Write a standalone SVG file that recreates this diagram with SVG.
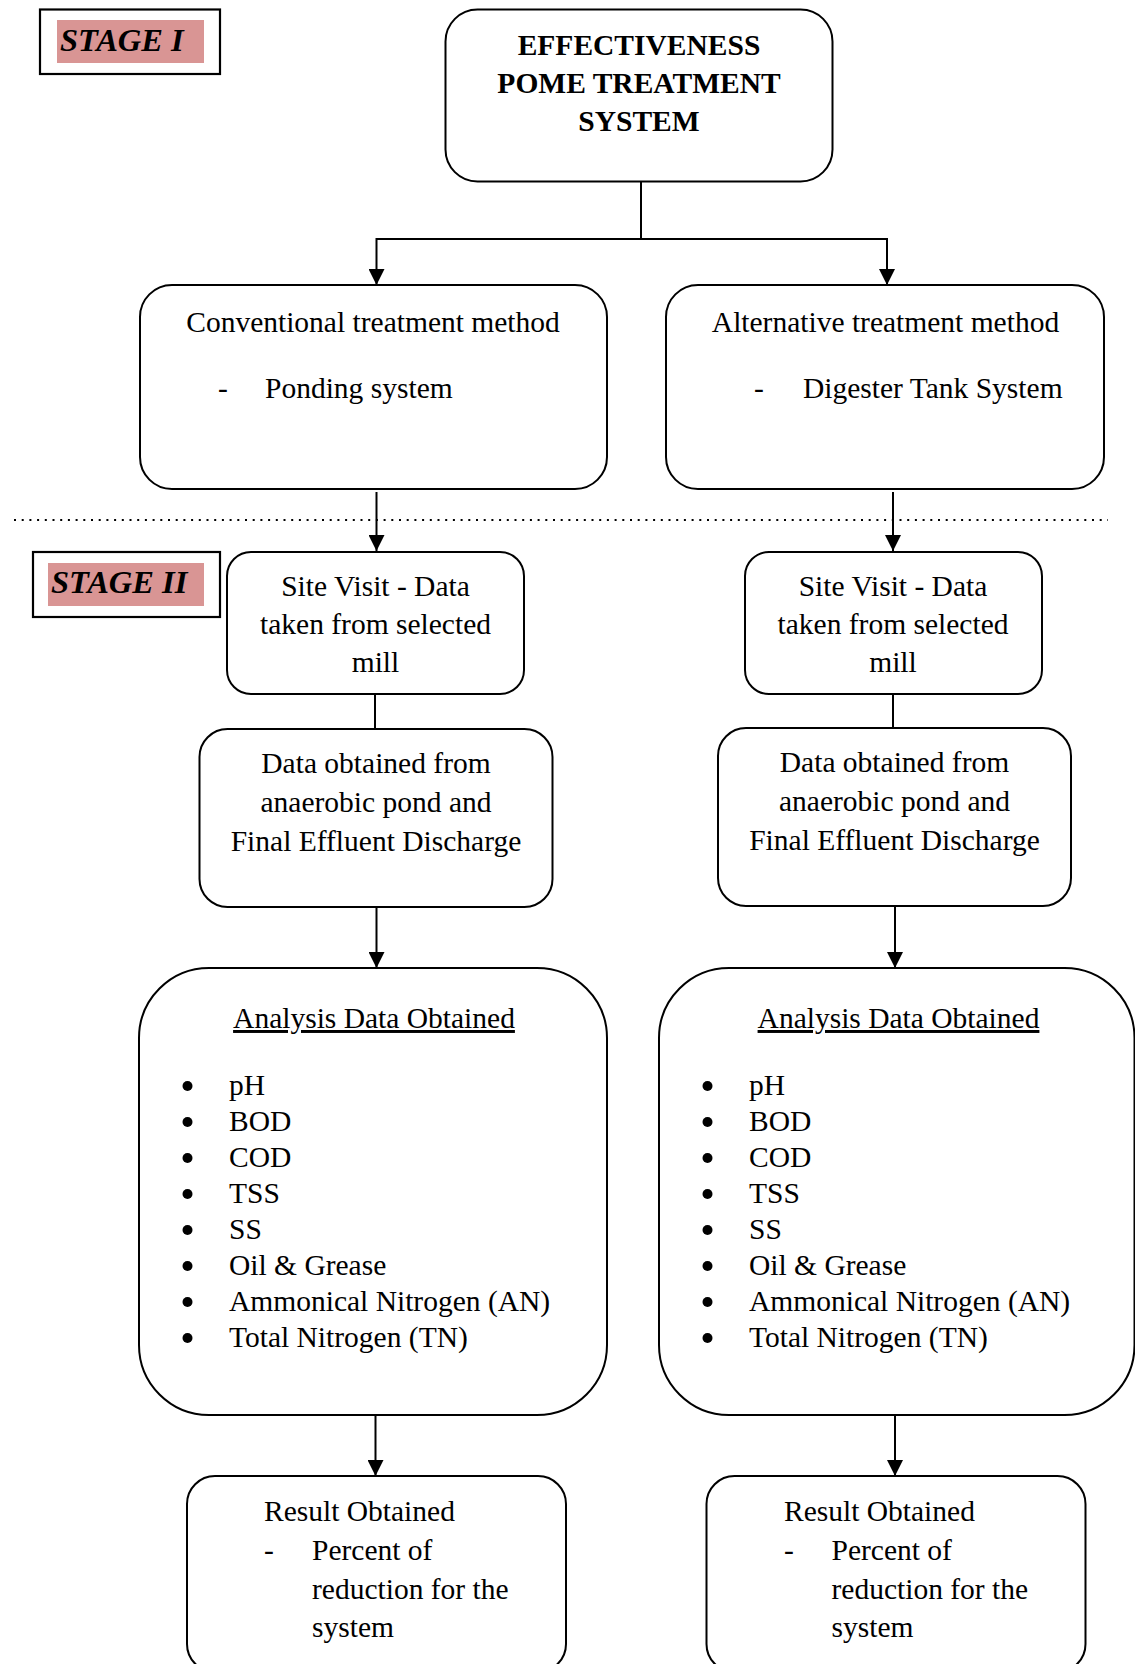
<svg xmlns="http://www.w3.org/2000/svg" width="1135" height="1664" viewBox="0 0 1135 1664">
<style>
.box{fill:#fff;stroke:#000;stroke-width:2}
.lbl{fill:#fff;stroke:#000;stroke-width:2.2}
.pink{fill:#D99594}
.stage{font-family:"Liberation Serif","Times New Roman",serif;font-size:32.5px;font-weight:bold;font-style:italic;fill:#000}
.t{font-family:"Liberation Serif","Times New Roman",serif;font-size:29.5px;fill:#000}
.c{text-anchor:middle}
.b{font-weight:bold}
.u{text-decoration:underline}
.con{fill:none;stroke:#000;stroke-width:2}
.arr{fill:none;stroke:#000;stroke-width:2;marker-end:url(#ah)}
.dot{fill:#000}
</style>
<defs>
<marker id="ah" viewBox="0 0 16 16" refX="16" refY="8" markerWidth="16" markerHeight="16" markerUnits="userSpaceOnUse" orient="auto">
<path d="M0,0 L16,8 L0,16 z" fill="#000"/>
</marker>
</defs>
<rect width="1135" height="1664" fill="#fff"/>

<g id="stage1">
<rect class="lbl" x="40" y="9.5" width="180" height="64.5"/>
<rect class="pink" x="57" y="20" width="147" height="43"/>
<text class="stage" x="60" y="51">STAGE I</text>
</g>

<g id="stage2">
<rect class="lbl" x="33" y="552" width="187" height="65"/>
<rect class="pink" x="48" y="563" width="156" height="43"/>
<text class="stage" x="51" y="593">STAGE II</text>
</g>

<g id="connectors">
<path class="con" d="M641,182 V239 M376.5,239 H887"/>
<path class="arr" d="M376.5,238 V285"/>
<path class="arr" d="M887,238 V285"/>
<path class="con" d="M14,520 H1108" stroke-dasharray="2 5.7"/>
<path class="arr" d="M376.5,492 V551"/>
<path class="arr" d="M893,492 V551"/>
<path class="con" d="M375,694 V729"/>
<path class="con" d="M893,694 V728"/>
<path class="arr" d="M376.5,907 V968"/>
<path class="arr" d="M895,906 V968"/>
<path class="arr" d="M375.5,1415 V1476"/>
<path class="arr" d="M895,1415 V1476"/>
</g>

<g id="top">
<rect class="box" x="445.5" y="9.5" width="387" height="172" rx="32"/>
<text class="t b c" x="639" y="55">EFFECTIVENESS</text>
<text class="t b c" x="639" y="93">POME TREATMENT</text>
<text class="t b c" x="639" y="131">SYSTEM</text>
</g>

<g id="conventional">
<rect class="box" x="140" y="285" width="467" height="204" rx="32"/>
<text class="t c" x="373" y="332">Conventional treatment method</text>
<text class="t" x="218" y="398">-</text>
<text class="t" x="265" y="398">Ponding system</text>
</g>

<g id="alternative">
<rect class="box" x="666" y="285" width="438" height="204" rx="32"/>
<text class="t c" x="885.5" y="332">Alternative treatment method</text>
<text class="t" x="754" y="398">-</text>
<text class="t" x="803" y="398">Digester Tank System</text>
</g>

<g id="site-left">
<rect class="box" x="227" y="552" width="297" height="142" rx="24"/>
<text class="t c" x="375.5" y="596">Site Visit - Data</text>
<text class="t c" x="375.5" y="634">taken from selected</text>
<text class="t c" x="375.5" y="672">mill</text>
</g>

<g id="site-right">
<rect class="box" x="745" y="552" width="297" height="142" rx="24"/>
<text class="t c" x="893" y="596">Site Visit - Data</text>
<text class="t c" x="893" y="634">taken from selected</text>
<text class="t c" x="893" y="672">mill</text>
</g>

<g id="data-left">
<rect class="box" x="199.5" y="729" width="353" height="178" rx="28"/>
<text class="t c" x="376" y="773">Data obtained from</text>
<text class="t c" x="376" y="812">anaerobic pond and</text>
<text class="t c" x="376" y="851">Final Effluent Discharge</text>
</g>

<g id="data-right">
<rect class="box" x="718" y="728" width="353" height="178" rx="28"/>
<text class="t c" x="894.5" y="772">Data obtained from</text>
<text class="t c" x="894.5" y="811">anaerobic pond and</text>
<text class="t c" x="894.5" y="850">Final Effluent Discharge</text>
</g>

<g id="analysis-left">
<rect class="box" x="139" y="968" width="468" height="447" rx="70"/>
<text class="t c u" x="374" y="1028">Analysis Data Obtained</text>
<circle class="dot" cx="187.5" cy="1086" r="5"/>
<circle class="dot" cx="187.5" cy="1122" r="5"/>
<circle class="dot" cx="187.5" cy="1158" r="5"/>
<circle class="dot" cx="187.5" cy="1194" r="5"/>
<circle class="dot" cx="187.5" cy="1230" r="5"/>
<circle class="dot" cx="187.5" cy="1266" r="5"/>
<circle class="dot" cx="187.5" cy="1302" r="5"/>
<circle class="dot" cx="187.5" cy="1338" r="5"/>
<text class="t" x="229" y="1095">pH</text>
<text class="t" x="229" y="1131">BOD</text>
<text class="t" x="229" y="1167">COD</text>
<text class="t" x="229" y="1203">TSS</text>
<text class="t" x="229" y="1239">SS</text>
<text class="t" x="229" y="1275">Oil &amp; Grease</text>
<text class="t" x="229" y="1311">Ammonical Nitrogen (AN)</text>
<text class="t" x="229" y="1347">Total Nitrogen (TN)</text>
</g>

<g id="analysis-right">
<rect class="box" x="659" y="968" width="475.5" height="447" rx="70"/>
<text class="t c u" x="898.5" y="1028">Analysis Data Obtained</text>
<circle class="dot" cx="707.5" cy="1086" r="5"/>
<circle class="dot" cx="707.5" cy="1122" r="5"/>
<circle class="dot" cx="707.5" cy="1158" r="5"/>
<circle class="dot" cx="707.5" cy="1194" r="5"/>
<circle class="dot" cx="707.5" cy="1230" r="5"/>
<circle class="dot" cx="707.5" cy="1266" r="5"/>
<circle class="dot" cx="707.5" cy="1302" r="5"/>
<circle class="dot" cx="707.5" cy="1338" r="5"/>
<text class="t" x="749" y="1095">pH</text>
<text class="t" x="749" y="1131">BOD</text>
<text class="t" x="749" y="1167">COD</text>
<text class="t" x="749" y="1203">TSS</text>
<text class="t" x="749" y="1239">SS</text>
<text class="t" x="749" y="1275">Oil &amp; Grease</text>
<text class="t" x="749" y="1311">Ammonical Nitrogen (AN)</text>
<text class="t" x="749" y="1347">Total Nitrogen (TN)</text>
</g>

<g id="result-left">
<rect class="box" x="187" y="1476" width="379" height="196" rx="28"/>
<text class="t" x="264" y="1521">Result Obtained</text>
<text class="t" x="264" y="1560">-</text>
<text class="t" x="312" y="1560">Percent of</text>
<text class="t" x="312" y="1599">reduction for the</text>
<text class="t" x="312" y="1637">system</text>
</g>

<g id="result-right">
<rect class="box" x="706.5" y="1476" width="379" height="196" rx="28"/>
<text class="t" x="784" y="1521">Result Obtained</text>
<text class="t" x="784" y="1560">-</text>
<text class="t" x="831.5" y="1560">Percent of</text>
<text class="t" x="831.5" y="1599">reduction for the</text>
<text class="t" x="831.5" y="1637">system</text>
</g>
</svg>
